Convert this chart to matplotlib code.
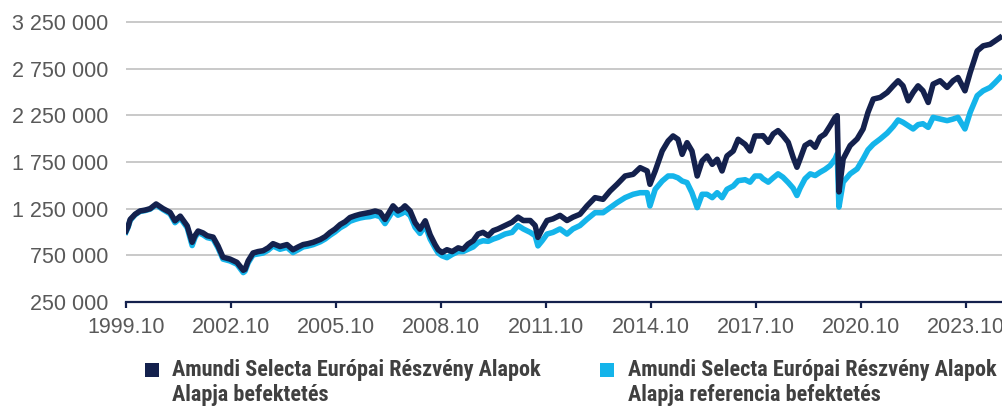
import matplotlib
matplotlib.use("Agg")
import matplotlib.pyplot as plt
from matplotlib.patches import Rectangle
from matplotlib.ticker import FuncFormatter, FixedLocator
from matplotlib import font_manager

# ---- data (decimal years, values in thousand HUF) ----
years = [
    1999.83, 1999.89, 1999.95, 2000.09, 2000.23, 2000.38, 2000.52, 2000.69, 2000.89, 2001.09,
    2001.23, 2001.38, 2001.58, 2001.72, 2001.80, 2001.89, 2002.03, 2002.15, 2002.32, 2002.46,
    2002.60, 2002.80, 2003.00, 2003.18, 2003.23, 2003.32, 2003.46, 2003.60, 2003.75, 2003.89,
    2004.03, 2004.23, 2004.43, 2004.60, 2004.75, 2004.89, 2005.03, 2005.18, 2005.38, 2005.52,
    2005.66, 2005.80, 2005.95, 2006.09, 2006.23, 2006.38, 2006.52, 2006.66, 2006.80, 2006.95,
    2007.09, 2007.23, 2007.38, 2007.46, 2007.60, 2007.72, 2007.80, 2007.95, 2008.09, 2008.23,
    2008.38, 2008.52, 2008.66, 2008.75, 2008.86, 2009.00, 2009.15, 2009.32, 2009.46, 2009.60,
    2009.75, 2009.89, 2010.03, 2010.18, 2010.32, 2010.46, 2010.66, 2010.86, 2011.03, 2011.18,
    2011.38, 2011.52, 2011.60, 2011.72, 2011.86, 2012.03, 2012.23, 2012.43, 2012.60, 2012.80,
    2013.00, 2013.23, 2013.46, 2013.66, 2013.86, 2014.09, 2014.32, 2014.52, 2014.72, 2014.80,
    2014.95, 2015.15, 2015.32, 2015.46, 2015.60, 2015.72, 2015.86, 2016.00, 2016.15, 2016.29,
    2016.43, 2016.58, 2016.72, 2016.86, 2017.00, 2017.18, 2017.32, 2017.52, 2017.66, 2017.80,
    2017.95, 2018.03, 2018.18, 2018.32, 2018.46, 2018.60, 2018.75, 2018.89, 2019.00, 2019.09,
    2019.23, 2019.38, 2019.52, 2019.66, 2019.80, 2019.95, 2020.09, 2020.15, 2020.20, 2020.32,
    2020.52, 2020.72, 2020.89, 2021.03, 2021.18, 2021.38, 2021.58, 2021.75, 2021.89, 2022.03,
    2022.18, 2022.32, 2022.46, 2022.60, 2022.75, 2022.89, 2023.09, 2023.29, 2023.46, 2023.60,
    2023.80, 2023.95, 2024.15, 2024.32, 2024.52, 2024.66, 2024.80,
]

fund_k = [
    1010, 1060, 1135, 1190, 1225, 1235, 1250, 1300, 1250, 1210,
    1120, 1170, 1065, 890, 960, 1010, 990, 960, 945, 850,
    730, 710, 675, 590, 600, 690, 775, 790, 800, 830,
    875, 845, 865, 810, 840, 865, 875, 890, 920, 950,
    995, 1030, 1080, 1110, 1155, 1175, 1190, 1200, 1210, 1225,
    1210, 1135, 1230, 1280, 1225, 1250, 1280, 1225, 1100, 1030,
    1120, 970, 865, 810, 780, 810, 790, 830, 815, 870,
    906, 978, 996, 960, 1014, 1033, 1069, 1105, 1159, 1123,
    1123, 1069, 942, 1033, 1123, 1141, 1178, 1123, 1159, 1190,
    1279, 1368, 1350, 1439, 1511, 1600, 1618, 1689, 1654, 1511,
    1654, 1868, 1975, 2029, 1993, 1832, 1957, 1868, 1600, 1761,
    1814, 1725, 1779, 1654, 1814, 1868, 1993, 1939, 1868, 2029,
    2029, 2032, 1961, 2050, 2086, 2032, 1961, 1801, 1694, 1783,
    1926, 1961, 1908, 2015, 2050, 2139, 2228, 2246, 1430, 1783,
    1926, 1997, 2104, 2282, 2424, 2442, 2495, 2566, 2620, 2566,
    2406, 2495, 2566, 2513, 2388, 2584, 2620, 2549, 2620, 2655,
    2513, 2709, 2940, 2994, 3011, 3047, 3083,
]

reference_k = [
    1000, 1050, 1125, 1185, 1220, 1230, 1245, 1290, 1240, 1195,
    1100, 1150, 1045, 855, 940, 995, 970, 940, 925, 830,
    710, 690, 655, 565, 580, 670, 755, 765, 775, 805,
    850, 815, 835, 780, 810, 840, 850, 865, 895, 925,
    965, 1000, 1045, 1075, 1115, 1135, 1150, 1160, 1165, 1180,
    1165, 1090, 1180, 1230, 1180, 1200, 1225, 1175, 1050, 985,
    1070, 925, 830, 775, 745, 725, 760, 790, 790, 815,
    840, 888, 906, 900, 924, 942, 978, 996, 1069, 1033,
    996, 960, 851, 906, 978, 996, 1033, 978, 1033, 1069,
    1136, 1207, 1207, 1261, 1314, 1368, 1404, 1421, 1421, 1279,
    1457, 1546, 1600, 1600, 1580, 1546, 1529, 1421, 1261, 1404,
    1404, 1368, 1421, 1368, 1457, 1493, 1550, 1560, 1534, 1600,
    1600, 1570, 1534, 1580, 1623, 1587, 1530, 1470, 1391, 1470,
    1570, 1623, 1605, 1640, 1670, 1712, 1783, 1837, 1267, 1534,
    1623, 1676, 1783, 1880, 1940, 1997, 2060, 2130, 2200, 2175,
    2139, 2104, 2150, 2160, 2121, 2228, 2210, 2193, 2210, 2228,
    2104, 2282, 2460, 2513, 2549, 2600, 2655,
]

x_tick_years = [1999.83, 2002.83, 2005.83, 2008.83, 2011.83, 2014.83, 2017.83, 2020.83, 2023.83]
x_tick_labels = ["1999.10", "2002.10", "2005.10", "2008.10", "2011.10",
                 "2014.10", "2017.10", "2020.10", "2023.10"]
y_ticks = [250000, 750000, 1250000, 1750000, 2250000, 2750000, 3250000]

series_names = ["Amundi Selecta Európai Részvény Alapok\nAlapja befektetés",
                "Amundi Selecta Európai Részvény Alapok\nAlapja referencia befektetés"]

DARK = "#14214d"
LIGHT = "#14b4ea"
GRID = "#c0c0c0"
TICK_TXT = "#595959"
LEG_TXT = "#404040"

W, H = 1002, 407
fig = plt.figure(figsize=(W / 100, H / 100), dpi=100)

y0, y1 = 250000, 3300000
px_per_unit = 46.67 / 500000
ax_h_px = (y1 - y0) * px_per_unit
ax_bottom_px = 302
ax_left_px = 126
ax = fig.add_axes([ax_left_px / W, (H - ax_bottom_px) / H, (W - ax_left_px) / W, ax_h_px / H])

fund = [v * 1000 for v in fund_k]
ref = [v * 1000 for v in reference_k]

ax.plot(years, ref, color=LIGHT, lw=4.0, solid_joinstyle="round", zorder=3)
ax.plot(years, fund, color=DARK, lw=4.0, solid_joinstyle="round", zorder=4)

ax.set_xlim(1999.83, 1999.83 + (W - ax_left_px) / 35.0)
ax.set_ylim(y0, y1)

ax.yaxis.set_major_locator(FixedLocator(y_ticks))
ax.yaxis.set_major_formatter(FuncFormatter(lambda v, p: f"{int(round(v)):,}".replace(",", " ")))
ax.set_xticks(x_tick_years)
ax.set_xticklabels(x_tick_labels)

for s in ["top", "right", "left"]:
    ax.spines[s].set_visible(False)
ax.spines["bottom"].set_color(DARK)
ax.spines["bottom"].set_linewidth(1.6)
ax.spines["bottom"].set_zorder(5)

ax.grid(axis="y", color=GRID, lw=1.2)
ax.set_axisbelow(True)

tick_family = ["Liberation Sans", "DejaVu Sans"]
ax.tick_params(axis="y", length=0, pad=13, labelcolor=TICK_TXT)
ax.tick_params(axis="x", length=4, width=1.6, color=DARK, direction="out", pad=7, labelcolor=TICK_TXT)
for lab in ax.get_xticklabels() + ax.get_yticklabels():
    lab.set_fontfamily(tick_family)
    lab.set_fontsize(15.5)

# pick the narrowest available bold family for the legend
leg_family = "DejaVu Sans"
for cand in ["Roboto Condensed", "Liberation Sans Narrow", "DejaVu Sans Condensed", "Roboto"]:
    try:
        font_manager.findfont(font_manager.FontProperties(family=cand, weight="bold"),
                              fallback_to_default=False)
        leg_family = cand
        break
    except Exception:
        continue

# legend (manual, below the axes)
entries = [(145, 172, DARK, series_names[0]), (600, 628, LIGHT, series_names[1])]
texts = []
for mx, tx, col, name in entries:
    fig.add_artist(Rectangle((mx / W, (H - 377) / H), 14 / W, 14 / H,
                             transform=fig.transFigure, facecolor=col, edgecolor="none"))
    t = fig.text(tx / W, (H - 359) / H, name, ha="left", va="top", color=LEG_TXT,
                 fontsize=15, fontweight="bold", family=[leg_family, "DejaVu Sans"],
                 linespacing=1.2)
    texts.append(t)

# scale legend font so the first line is about 373 px wide, as in the reference
fig.canvas.draw()
r = fig.canvas.get_renderer()
probe = fig.text(0, 0, series_names[0].split("\n")[0], fontsize=15, fontweight="bold",
                 family=[leg_family, "DejaVu Sans"])
wpx = probe.get_window_extent(r).width
probe.remove()
size = min(16.0, 15 * 373.0 / wpx)
for t in texts:
    t.set_fontsize(size)
    t.set_linespacing(1.2 * 15 / size if size < 15 else 1.2)

fig.savefig("out.png", dpi=100, facecolor="white")
